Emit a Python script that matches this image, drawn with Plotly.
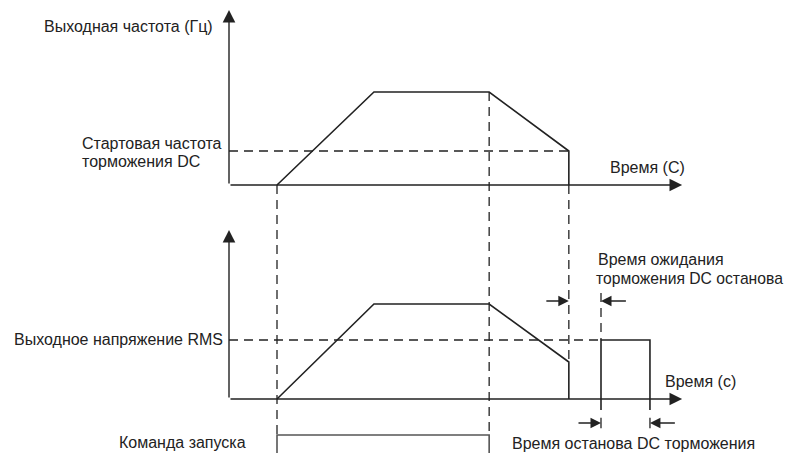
import plotly.graph_objects as go

# diagram units: time along x, level along y (top panel base = 0)
t_run = 1.0        # run command / start of accel
t_acc = 3.02       # end of accel
t_dec = 5.42       # start of decel (run command off)
t_stop = 7.08      # DC braking start frequency reached
t_dc_on = 7.75     # DC braking starts (after wait)
t_dc_off = 8.77    # DC braking ends
t_axis = 9.44      # end of time axes

f_max = 2.325      # output frequency plateau
f_dc = 0.85        # DC braking start frequency
v_max = 2.375      # output voltage plateau
v_dc = 1.475       # DC braking voltage
v_stop = 0.925     # voltage when stopping

base_bot = -5.35   # base of the voltage panel
run_top = -6.25    # top of run command pulse
y_top_tip = 4.375
y_bot_tip = -1.125
y_wait = -2.9      # wait-time arrows
y_brk = -5.95      # DC braking time arrows

freq_t = [t_run, t_acc, t_dec, t_stop, t_stop]
freq_v = [0, f_max, f_max, f_dc, 0]
volt_t = [t_run, t_acc, t_dec, t_stop, t_stop]
volt_v = [base_bot, base_bot + v_max, base_bot + v_max, base_bot + v_stop, base_bot]
dc_t = [t_dc_on, t_dc_on, t_dc_off, t_dc_off]
dc_v = [base_bot - 0.275, base_bot + v_dc, base_bot + v_dc, base_bot - 0.275]
run_t = [t_run, t_run, t_dec, t_dec]
run_v = [-7.2, run_top, run_top, -7.2]

ink = "#222222"
dash = "9px,6px"
fig = go.Figure()


def line(x, y, color=ink, d="solid", w=1.6):
    fig.add_trace(go.Scatter(x=x, y=y, mode="lines", hoverinfo="skip",
                             line=dict(color=color, width=w, dash=d)))


def arrow(x0, y0, x1, y1, size=1.5):
    fig.add_annotation(x=x1, y=y1, ax=x0, ay=y0, xref="x", yref="y",
                       axref="x", ayref="y", showarrow=True, text="",
                       arrowhead=2, arrowsize=size, arrowwidth=1.4, arrowcolor=ink)


# axes
arrow(0, 0, 0, y_top_tip, 1.8)
arrow(0, 0, t_axis, 0, 1.8)
arrow(0, base_bot, 0, y_bot_tip, 1.8)
arrow(0, base_bot, t_axis, base_bot, 1.8)

# dashed guides
line([0, t_stop], [f_dc, f_dc], d=dash, w=1.3)
line([0, t_dc_on], [base_bot + v_dc, base_bot + v_dc], d=dash, w=1.3)
line([t_run, t_run], [0, run_top], d=dash, w=1.3)
line([t_dec, t_dec], [f_max, run_top], d=dash, w=1.3)
line([t_stop, t_stop], [0, base_bot + v_stop], d=dash, w=1.3)
line([t_dc_on, t_dc_on], [y_wait + 0.2, base_bot + v_dc], d=dash, w=1.3)

# signals
line(freq_t, freq_v)
line(volt_t, volt_v)
line(dc_t, dc_v)
line(run_t, run_v, color="#555555")

# time arrows
arrow(t_stop - 0.5, y_wait, t_stop, y_wait)
arrow(t_dc_on + 0.55, y_wait, t_dc_on, y_wait)
arrow(t_dc_on - 0.5, y_brk, t_dc_on, y_brk)
arrow(t_dc_off + 0.55, y_brk, t_dc_off, y_brk)
line([t_dc_on, t_dc_on], [y_brk - 0.13, y_brk + 0.13], w=1.3)
line([t_dc_off, t_dc_off], [y_brk - 0.13, y_brk + 0.13], w=1.3)

labels = [
    ("Выходная частота (Гц)", 215, 27, "right", 16),
    ("Стартовая частота", 80, 143, "left", 16),
    ("торможения DC", 80, 161, "left", 16),
    ("Время (С)", 608, 167, "left", 16),
    ("Время ожидания", 596, 259, "left", 16),
    ("торможения DC останова", 594, 278, "left", 15.7),
    ("Выходное напряжение RMS", 12, 339, "left", 16),
    ("Время (с)", 663, 381, "left", 16),
    ("Команда запуска", 248, 442, "right", 16),
    ("Время останова DC торможения", 510, 443, "left", 16),
]
for txt, px, py, side, fs in labels:
    fig.add_annotation(x=px / 787, y=1 - py / 453, xref="paper", yref="paper",
                       text=txt, showarrow=False, xanchor=side, yanchor="middle",
                       align="left", font=dict(size=fs, color=ink))

fig.update_layout(
    width=787, height=453, margin=dict(l=0, r=0, t=0, b=0),
    paper_bgcolor="white", plot_bgcolor="white", showlegend=False,
    font=dict(family="Liberation Sans, Arial, sans-serif"),
    xaxis=dict(range=[-229 / 48, 558 / 48], visible=False, fixedrange=True),
    yaxis=dict(range=[-268 / 40, 185 / 40], visible=False, fixedrange=True),
)
fig.write_html("out.html", config={"displayModeBar": False},
               post_script="document.body.style.margin='0px';")
